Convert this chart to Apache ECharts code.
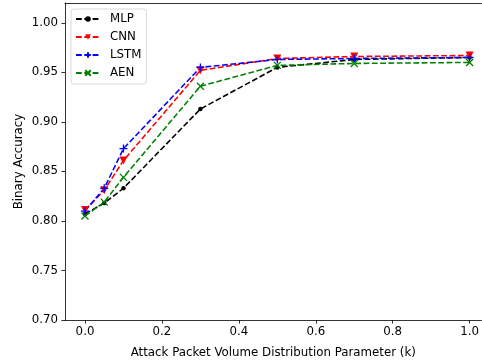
<!DOCTYPE html>
<html>
<head>
<meta charset="utf-8">
<script src="https://cdn.jsdelivr.net/npm/echarts@6/dist/echarts.min.js"></script>
<style>
html,body{margin:0;padding:0;background:#fff;}
#chart{width:482px;height:364px;}
</style>
</head>
<body>
<div id="chart"></div>
<script>
const xValues = [0.0, 0.05, 0.1, 0.3, 0.5, 0.7, 1.0];
const mlp  = [0.807, 0.818, 0.833, 0.913, 0.955, 0.963, 0.965];
const cnn  = [0.811, 0.831, 0.861, 0.952, 0.964, 0.966, 0.967];
const lstm = [0.810, 0.833, 0.873, 0.955, 0.963, 0.964, 0.965];
const aen  = [0.805, 0.819, 0.844, 0.936, 0.957, 0.959, 0.960];
const xTicks = [0.0, 0.2, 0.4, 0.6, 0.8, 1.0];
const yTicks = [0.70, 0.75, 0.80, 0.85, 0.90, 0.95, 1.00];
const xLabel = 'Attack Packet Volume Distribution Parameter (k)';
const yLabel = 'Binary Accuracy';

const FONT = 'DejaVu Sans';
const FS = 11.8;
const pairs = arr => xValues.map((x, i) => [x, arr[i]]);
const PLUS = 'path://M5,0 L5,10 M0,5 L10,5';
const CROSS = 'path://M0,0 L10,10 M0,10 L10,0';

function mk(name, data, color, symbol, size, stroke, rotate) {
  return {
    name, type: 'line', data: pairs(data),
    symbol, symbolSize: size, symbolRotate: rotate || 0,
    showAllSymbol: true,
    lineStyle: { color, width: 1.56, type: [5.8, 2.5] },
    itemStyle: stroke
      ? { color: 'rgba(0,0,0,0)', borderColor: color, borderWidth: 1.3 }
      : { color, borderColor: color, borderWidth: 0 },
    emphasis: { disabled: true },
    animation: false
  };
}

const chart = echarts.init(document.getElementById('chart'), null, { renderer: 'canvas' });
chart.setOption({
  animation: false,
  backgroundColor: '#fff',
  textStyle: { fontFamily: FONT },
  grid: { show: false, left: 65, top: 3, right: 0, bottom: 44 },
  legend: {
    left: 71, top: 9, orient: 'vertical',
    itemWidth: 24, itemHeight: 7, itemGap: 6,
    padding: [4, 5, 5, 4],
    backgroundColor: 'rgba(255,255,255,0.8)',
    borderColor: '#d0d0d0', borderWidth: 0.8, borderRadius: 3,
    textStyle: { fontFamily: FONT, fontSize: FS, color: '#000', lineHeight: 12, padding: [0, 0, 0, 5] },
    data: ['MLP', 'CNN', 'LSTM', 'AEN']
  },
  xAxis: [{
    type: 'value', min: -0.052, max: 1.031,
    name: xLabel, nameLocation: 'middle', nameGap: 27, nameMoveOverlap: false,
    nameTextStyle: { fontFamily: FONT, fontSize: FS, color: '#000' },
    axisLine: { show: true, onZero: false, lineStyle: { color: '#000', width: 0.8 } },
    axisTick: { show: true, length: 3.6, customValues: xTicks, lineStyle: { color: '#000', width: 0.8 } },
    axisLabel: { customValues: xTicks, margin: 6, fontFamily: FONT, fontSize: FS, color: '#000', formatter: v => v.toFixed(1) },
    splitLine: { show: false }
  }, {
    type: 'value', position: 'top', min: -0.052, max: 1.031,
    axisLine: { show: true, onZero: false, lineStyle: { color: '#000', width: 0.8 } },
    axisTick: { show: false }, axisLabel: { show: false }, splitLine: { show: false }
  }],
  yAxis: {
    type: 'value', min: 0.70, max: 1.02,
    name: yLabel, nameLocation: 'middle', nameGap: 40, nameRotate: 90, nameMoveOverlap: false,
    nameTextStyle: { fontFamily: FONT, fontSize: FS, color: '#000' },
    axisLine: { show: true, onZero: false, lineStyle: { color: '#000', width: 0.8 } },
    axisTick: { show: true, length: 3.6, customValues: yTicks, lineStyle: { color: '#000', width: 0.8 } },
    axisLabel: { customValues: yTicks, margin: 7, fontFamily: FONT, fontSize: FS, color: '#000', formatter: v => v.toFixed(2) },
    splitLine: { show: false }
  },
  series: [
    mk('MLP', mlp, '#000000', 'circle', 4.5, false),
    mk('CNN', cnn, '#ff0000', 'triangle', 8, false, 180),
    mk('LSTM', lstm, '#0000ff', PLUS, 8, true),
    mk('AEN', aen, '#008000', CROSS, 7, true)
  ]
});
</script>
</body>
</html>
